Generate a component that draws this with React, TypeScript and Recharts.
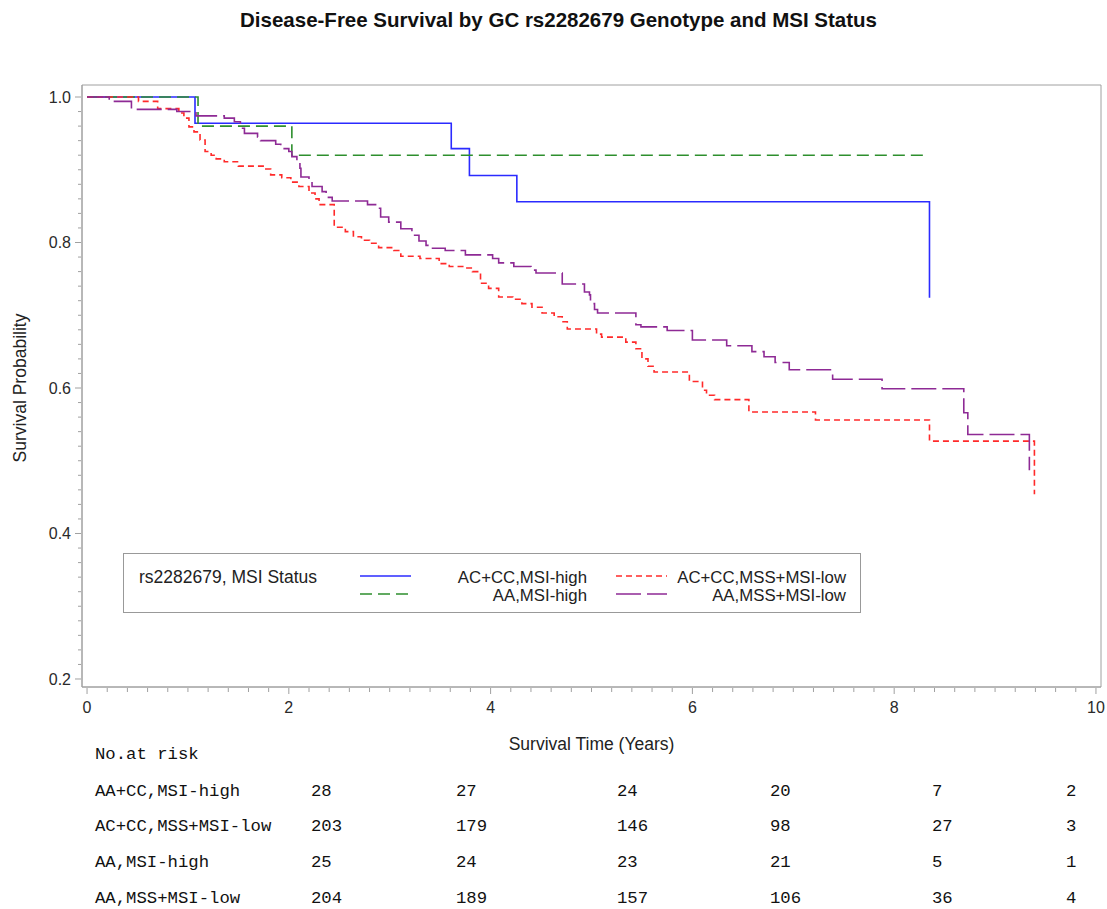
import React from "react";
import { LineChart, Line, XAxis, YAxis, ReferenceArea, Legend } from "recharts";

// Kaplan-Meier steps: time in years, survival probability
const blueTimes = [0, 1.07, 3.61, 3.79, 4.26, 8.35];
const blueSurv = [1, 0.964, 0.929, 0.892, 0.856, 0.724];

const greenTimes = [0, 1.1, 2.03, 8.33];
const greenSurv = [1, 0.96, 0.92, 0.92];

const redTimes = [
  0, 0.51, 0.7, 0.91, 0.96, 1.01, 1.06, 1.12, 1.17, 1.23, 1.28, 1.36, 1.5, 1.76, 1.82, 1.93,
  2.02, 2.1, 2.2, 2.26, 2.3, 2.45, 2.56, 2.64, 2.72, 2.8, 2.89, 3.04, 3.11, 3.3, 3.49, 3.59,
  3.75, 3.82, 3.9, 3.98, 4.08, 4.22, 4.31, 4.41, 4.51, 4.63, 4.71, 4.76, 5.05, 5.1, 5.34,
  5.44, 5.5, 5.56, 5.62, 5.97, 6.1, 6.14, 6.22, 6.56, 7.22, 8.35, 9.39,
];
const redSurv = [
  1, 0.994, 0.984, 0.978, 0.971, 0.959, 0.952, 0.941, 0.925, 0.92, 0.915, 0.911, 0.905, 0.901,
  0.893, 0.889, 0.883, 0.877, 0.868, 0.86, 0.852, 0.821, 0.815, 0.808, 0.803, 0.799, 0.793,
  0.789, 0.781, 0.778, 0.771, 0.767, 0.765, 0.76, 0.744, 0.737, 0.725, 0.722, 0.716, 0.711,
  0.703, 0.698, 0.691, 0.681, 0.674, 0.67, 0.663, 0.654, 0.64, 0.63, 0.622, 0.609, 0.597,
  0.59, 0.584, 0.567, 0.556, 0.527, 0.454,
];

const purpleTimes = [
  0, 0.22, 0.44, 0.89, 1.08, 1.36, 1.46, 1.52, 1.56, 1.69, 1.72, 1.87, 1.92, 2.0, 2.03, 2.08,
  2.11, 2.12, 2.2, 2.23, 2.33, 2.37, 2.43, 2.78, 2.86, 2.91, 2.99, 3.11, 3.22, 3.29, 3.36,
  3.4, 3.55, 3.75, 4.02, 4.08, 4.23, 4.4, 4.45, 4.71, 4.93, 4.98, 4.99, 5.03, 5.06, 5.44,
  5.49, 5.75, 6.0, 6.34, 6.59, 6.71, 6.82, 6.96, 7.39, 7.88, 8.69, 8.73, 9.34,
];
const purpleSurv = [
  1, 0.994, 0.983, 0.98, 0.974, 0.971, 0.966, 0.957, 0.95, 0.945, 0.94, 0.935, 0.929, 0.925,
  0.918, 0.911, 0.902, 0.89, 0.884, 0.877, 0.87, 0.862, 0.857, 0.852, 0.847, 0.835, 0.828,
  0.819, 0.81, 0.802, 0.796, 0.792, 0.789, 0.783, 0.778, 0.772, 0.767, 0.762, 0.758, 0.743,
  0.732, 0.728, 0.716, 0.708, 0.703, 0.687, 0.684, 0.679, 0.666, 0.658, 0.65, 0.643, 0.635,
  0.625, 0.612, 0.599, 0.566, 0.536, 0.487,
];

const xTickLabels = [0, 2, 4, 6, 8, 10];
const yTickLabels = [0.2, 0.4, 0.6, 0.8, 1.0];

// number at risk table
const riskLabels = ["AA+CC,MSI-high", "AC+CC,MSS+MSI-low", "AA,MSI-high", "AA,MSS+MSI-low"];
const riskAcHigh = [28, 27, 24, 20, 7, 2];
const riskAcLow = [203, 179, 146, 98, 27, 3];
const riskAaHigh = [25, 24, 23, 21, 5, 1];
const riskAaLow = [204, 189, 157, 106, 36, 4];

const toRows = (times: number[], surv: number[]) => times.map((t, i) => ({ t, s: surv[i] }));

const SERIES = [
  { name: "AC+CC,MSI-high", color: "#2b2bff", dash: undefined as string | undefined, data: toRows(blueTimes, blueSurv) },
  { name: "AA,MSI-high", color: "#2e8f2e", dash: "12 6", data: toRows(greenTimes, greenSurv) },
  { name: "AC+CC,MSS+MSI-low", color: "#ff2a2a", dash: "6 4", data: toRows(redTimes, redSurv) },
  { name: "AA,MSS+MSI-low", color: "#8e2a95", dash: "25 6", data: toRows(purpleTimes, purpleSurv) },
];

const FONT = '"Liberation Sans", Arial, sans-serif';
const MONO = '"Liberation Mono", "DejaVu Sans Mono", monospace';
const AXIS = "#a0a0a0";

const X_DOMAIN = [-0.05, 10.05];
const Y_DOMAIN = [0.189, 1.0165];

const xTicks: number[] = [];
for (let i = 0; i <= 50; i++) xTicks.push(Math.round(i * 2) / 10);
const yTicks: number[] = [];
for (let i = 10; i <= 50; i++) yTicks.push(Math.round(i * 2) / 100);

const isLabel = (v: number, labels: number[]) => labels.some((l) => Math.abs(l - v) < 1e-6);

const XTick = (props: any) => {
  const { x, y, payload } = props;
  const major = isLabel(payload.value, xTickLabels);
  return (
    <g>
      <line x1={x} y1={y + 1} x2={x} y2={y + (major ? 7 : 5)} stroke={AXIS} />
      {major && (
        <text x={x} y={y + 26} textAnchor="middle" fontSize={16} fill="#2a2a2a" fontFamily={FONT}>
          {Math.round(payload.value)}
        </text>
      )}
    </g>
  );
};

const YTick = (props: any) => {
  const { x, y, payload } = props;
  const major = isLabel(payload.value, yTickLabels);
  return (
    <g>
      <line x1={x - (major ? 7 : 4)} y1={y} x2={x - 1} y2={y} stroke={AXIS} />
      {major && (
        <text x={x - 11} y={y} dy="0.35em" textAnchor="end" fontSize={16} fill="#2a2a2a" fontFamily={FONT}>
          {payload.value.toFixed(1)}
        </text>
      )}
    </g>
  );
};

const legendRows = [
  [SERIES[0], SERIES[2]],
  [SERIES[1], SERIES[3]],
];

const LegendBox = () => (
  <svg width={738} height={60} style={{ display: "block" }}>
    <rect x={0.5} y={0.5} width={737} height={59} fill="#fff" stroke="#999" />
    <text x={16} y={24} dy="0.35em" fontSize={17.5} fill="#222" fontFamily={FONT}>
      rs2282679, MSI Status
    </text>
    {legendRows.map((row, r) =>
      row.map((s, c) => {
        const y = r === 0 ? 23 : 41;
        const lx = c === 0 ? 237 : 493;
        const tx = c === 0 ? 464 : 723;
        return (
          <g key={s.name}>
            <line x1={lx} y1={y} x2={lx + 51} y2={y} stroke={s.color} strokeWidth={1.6} strokeDasharray={s.dash} />
            <text x={tx} y={y + 1} dy="0.35em" textAnchor="end" fontSize={16.8} fill="#222" fontFamily={FONT}>
              {s.name}
            </text>
          </g>
        );
      })
    )}
  </svg>
);

const riskRows = [riskAcHigh, riskAcLow, riskAaHigh, riskAaLow];
const riskColX = [311, 456, 617, 770, 932, 1066];
const riskRowY = [792, 827, 863, 899];

export default function App() {
  return (
    <div style={{ position: "absolute", left: 0, top: 0, width: 1107, height: 909, background: "#fff", fontFamily: FONT }}>
      <div
        style={{ position: "absolute", left: 0, top: 8, width: 1117, textAlign: "center", fontSize: 20.5, fontWeight: "bold", color: "#111" }}
      >
        Disease-Free Survival by GC rs2282679 Genotype and MSI Status
      </div>

      <LineChart width={1107} height={909} data={SERIES[0].data} margin={{ top: 85, right: 6, bottom: 192, left: 22 }}>
        <ReferenceArea x1={X_DOMAIN[0]} x2={X_DOMAIN[1]} y1={Y_DOMAIN[0]} y2={Y_DOMAIN[1]} fill="none" stroke={AXIS} strokeOpacity={1} />
        <XAxis
          dataKey="t"
          type="number"
          domain={X_DOMAIN}
          ticks={xTicks}
          interval={0}
          tickSize={0}
          tickMargin={0}
          tick={<XTick />}
          axisLine={{ stroke: AXIS }}
          height={30}
          label={{ value: "Survival Time (Years)", position: "bottom", offset: 21, fontSize: 17.5, fill: "#222", fontFamily: FONT }}
        />
        <YAxis
          type="number"
          domain={Y_DOMAIN}
          ticks={yTicks}
          interval={0}
          tickSize={0}
          tickMargin={0}
          tick={<YTick />}
          axisLine={{ stroke: AXIS }}
          width={60}
        />
        {SERIES.map((s) => (
          <Line
            key={s.name}
            data={s.data}
            dataKey="s"
            name={s.name}
            type="stepAfter"
            stroke={s.color}
            strokeWidth={1.6}
            strokeDasharray={s.dash}
            dot={false}
            activeDot={false}
            isAnimationActive={false}
          />
        ))}
        <Legend
          layout="horizontal"
          verticalAlign="middle"
          align="center"
          wrapperStyle={{ position: "absolute", left: 123, top: 553, width: 738, height: 60 }}
          content={() => <LegendBox />}
        />
      </LineChart>

      <div
        style={{
          position: "absolute",
          left: 20,
          top: 388,
          transform: "translate(-50%, -50%) rotate(-90deg)",
          whiteSpace: "nowrap",
          fontSize: 17.5,
          color: "#222",
        }}
      >
        Survival Probability
      </div>

      <div style={{ position: "absolute", left: 95, top: 745, fontFamily: MONO, fontSize: 17.3, lineHeight: "20px", color: "#111" }}>
        No.at risk
      </div>
      {riskLabels.map((label, r) => (
        <React.Fragment key={label}>
          <div style={{ position: "absolute", left: 95, top: riskRowY[r] - 10, fontFamily: MONO, fontSize: 17.3, lineHeight: "20px", color: "#111", whiteSpace: "nowrap" }}>
            {label}
          </div>
          {riskRows[r].map((n, c) => (
            <div key={c} style={{ position: "absolute", left: riskColX[c], top: riskRowY[r] - 10, fontFamily: MONO, fontSize: 17.3, lineHeight: "20px", color: "#111" }}>
              {n}
            </div>
          ))}
        </React.Fragment>
      ))}
    </div>
  );
}
